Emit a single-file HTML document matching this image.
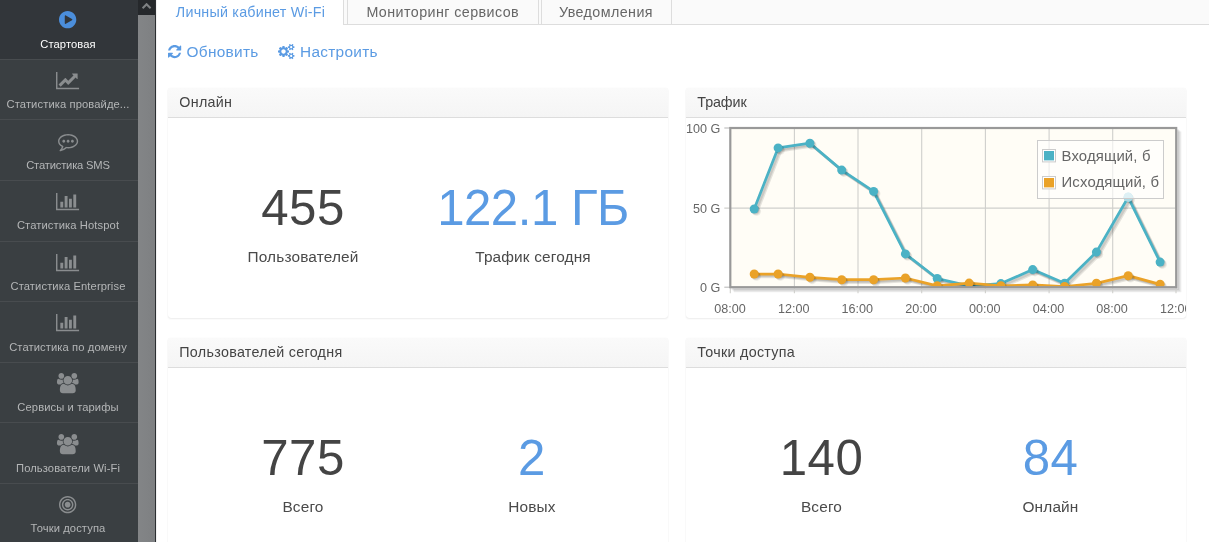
<!DOCTYPE html>
<html lang="ru"><head><meta charset="utf-8"><title>Личный кабинет Wi-Fi</title>
<style>
html,body{margin:0;padding:0}
body{width:1209px;height:542px;overflow:hidden;background:#fff;position:relative;font-family:"Liberation Sans",sans-serif;color:#444}
#side{position:absolute;left:0;top:0;width:138px;height:542px;background:#3a3f42;overflow:hidden}
.it{position:absolute;left:0;width:138px;height:59.9px;box-sizing:border-box;border-bottom:1px solid #484c4f}
.it.act{background:#32363a}
.ic{position:absolute;display:block;overflow:visible}
.lb{position:absolute;left:0;width:136px;top:36.5px;text-align:center;font-size:11.2px;line-height:14px;color:#b4b6b7;white-space:nowrap;letter-spacing:0.1px}
.act .lb{color:#fff}
#sb{position:absolute;left:138px;top:0;width:17px;height:542px;background:linear-gradient(90deg,#838587,#7e8082)}
#sbt{position:absolute;left:0;top:0;width:17px;height:14.5px;background:#25282b}
#sbl{position:absolute;left:155px;top:0;width:1px;height:542px;background:#2c2f32;border-right:1px solid #f1f1f1}
#tabs{position:absolute;left:157px;top:0;right:0;height:24px;background:#fafafa;border-bottom:1px solid #ddd}
.tab{position:absolute;top:-1px;height:24px;border:1px solid #ddd;border-bottom:none;box-sizing:content-box;font-size:14.3px;letter-spacing:0.42px;line-height:24px;color:#666;white-space:nowrap;text-align:center;background:#fafafa}
.tab.on{background:#fff;color:#5b9be3;height:25px;border-left-color:#fff}
.lnk{position:absolute;top:42px;letter-spacing:0.3px;font-size:15.4px;line-height:20px;color:#5b9be3;white-space:nowrap}
.panel{position:absolute;width:499.7px;height:230px;background:#fff;border-radius:3px;box-shadow:0 1px 2px rgba(0,0,0,0.07),0 0 1px rgba(0,0,0,0.10)}
.ph{position:absolute;left:0;top:0;right:0;height:29.5px;background:linear-gradient(#fafafa,#f5f5f5);border-bottom:1px solid #ddd;border-radius:3px 3px 0 0;font-size:14.3px;letter-spacing:0.3px;line-height:29px;padding-left:11.3px;color:#444}
.num{position:absolute;width:300px;text-align:center;font-size:49.2px;letter-spacing:0.5px;line-height:48px;color:#444;white-space:nowrap}
.u{letter-spacing:-0.5px}
.num.bl{color:#5b9be3}
.cap{position:absolute;width:300px;text-align:center;font-size:15.4px;letter-spacing:0.15px;line-height:18px;color:#4a4a4a;white-space:nowrap}
.chart{position:absolute;left:0;top:0}
.tk{font-family:"Liberation Sans",sans-serif;font-size:12.6px;fill:#666}
.lg{font-family:"Liberation Sans",sans-serif;font-size:14.9px;letter-spacing:0.15px;fill:#666}
</style></head><body>
<div id="side">
<div class="it act" style="top:0.00px"><svg class="ic" style="left:59.34px;top:11.14px" width="17.31" height="17.31" viewBox="0 -1408 1536 1536"><path fill="#4b8edb" transform="scale(1,-1)" d="M768 1408C344 1408 0 1064 0 640C0 216 344 -128 768 -128C1192 -128 1536 216 1536 640C1536 1064 1192 1408 768 1408ZM1152 585 608 265C598 259 587 256 576 256C565 256 554 259 544 264C524 276 512 297 512 320V960C512 983 524 1004 544 1016C564 1027 589 1027 608 1015L1152 695C1172 684 1184 663 1184 640C1184 617 1172 596 1152 585Z"/></svg><div class="lb">Стартовая</div></div>
<div class="it" style="top:60.60px"><svg class="ic" style="left:56.46px;top:11.14px" width="23.09" height="17.31" viewBox="0 -1408 2048 1536"><path fill="#8a8d8f" transform="scale(1,-1)" d="M2048 0H128V1408H0V-128H2048ZM1920 1248C1920 1266 1906 1280 1888 1280H1453C1425 1280 1410 1246 1431 1225L1552 1104L1088 640L855 873C842 886 822 886 809 873L224 288L416 96L832 512L1065 279C1078 266 1098 266 1111 279L1744 912L1865 791C1886 770 1920 785 1920 813Z"/></svg><div class="lb">Статистика провайде...</div></div>
<div class="it" style="top:121.20px"><svg class="ic" style="left:57.90px;top:12.59px" width="20.20" height="17.31" viewBox="0 -1280 1792 1536"><path fill="#8a8d8f" transform="scale(1,-1)" d="M640 640C640 711 583 768 512 768C441 768 384 711 384 640C384 569 441 512 512 512C583 512 640 569 640 640ZM1024 640C1024 711 967 768 896 768C825 768 768 711 768 640C768 569 825 512 896 512C967 512 1024 569 1024 640ZM1408 640C1408 711 1351 768 1280 768C1209 768 1152 711 1152 640C1152 569 1209 512 1280 512C1351 512 1408 569 1408 640ZM896 1152C1312 1152 1664 918 1664 640C1664 362 1312 128 896 128C853 128 809 131 766 136L709 142L666 104C584 32 492 -25 391 -67C417 -21 442 34 461 105L488 201L401 251C228 349 128 491 128 640C128 918 480 1152 896 1152ZM1792 640C1792 993 1391 1280 896 1280C401 1280 0 993 0 640C0 437 132 256 338 139C291 -28 219 -88 156 -159C141 -177 124 -192 129 -217C129 -217 129 -217 129 -218C134 -240 152 -256 172 -256C173 -256 175 -256 177 -256C216 -251 255 -244 291 -234C464 -190 620 -108 751 8C798 3 847 0 896 0C1391 0 1792 286 1792 640Z"/></svg><div class="lb" style="letter-spacing:-0.18px">Статистика SMS</div></div>
<div class="it" style="top:181.80px"><svg class="ic" style="left:56.46px;top:11.14px" width="23.09" height="17.31" viewBox="0 -1408 2048 1536"><path fill="#8a8d8f" transform="scale(1,-1)" d="M640 640H384V128H640ZM1024 1152H768V128H1024ZM2048 0H128V1408H0V-128H2048ZM1408 896H1152V128H1408ZM1792 1280H1536V128H1792Z"/></svg><div class="lb">Статистика Hotspot</div></div>
<div class="it" style="top:242.40px"><svg class="ic" style="left:56.46px;top:11.14px" width="23.09" height="17.31" viewBox="0 -1408 2048 1536"><path fill="#8a8d8f" transform="scale(1,-1)" d="M640 640H384V128H640ZM1024 1152H768V128H1024ZM2048 0H128V1408H0V-128H2048ZM1408 896H1152V128H1408ZM1792 1280H1536V128H1792Z"/></svg><div class="lb">Статистика Enterprise</div></div>
<div class="it" style="top:303.00px"><svg class="ic" style="left:56.46px;top:11.14px" width="23.09" height="17.31" viewBox="0 -1408 2048 1536"><path fill="#8a8d8f" transform="scale(1,-1)" d="M640 640H384V128H640ZM1024 1152H768V128H1024ZM2048 0H128V1408H0V-128H2048ZM1408 896H1152V128H1408ZM1792 1280H1536V128H1792Z"/></svg><div class="lb">Статистика по домену</div></div>
<div class="it" style="top:363.60px"><svg class="ic" style="left:57.18px;top:9.70px" width="21.64" height="20.20" viewBox="-0.006105489287108412 -1536 1920.0122109785743 1792"><path fill="#8a8d8f" transform="scale(1,-1)" d="M593 640C541 715 512 805 512 896C512 918 514 940 517 962C474 947 430 939 384 939C249 939 145 1024 124 1024C-3 1024 0 752 0 671C0 560 94 512 194 512H328C395 592 489 637 593 640ZM1664 3C1664 229 1611 576 1318 576C1284 576 1160 437 960 437C760 437 636 576 602 576C309 576 256 229 256 3C256 -159 363 -256 523 -256H1397C1557 -256 1664 -159 1664 3ZM640 1280C640 1421 525 1536 384 1536C243 1536 128 1421 128 1280C128 1139 243 1024 384 1024C525 1024 640 1139 640 1280ZM1344 896C1344 1108 1172 1280 960 1280C748 1280 576 1108 576 896C576 684 748 512 960 512C1172 512 1344 684 1344 896ZM1920 671C1920 752 1923 1024 1796 1024C1775 1024 1671 939 1536 939C1490 939 1446 947 1403 962C1406 940 1408 918 1408 896C1408 805 1379 715 1327 640C1431 637 1525 592 1592 512H1726C1826 512 1920 560 1920 671ZM1792 1280C1792 1421 1677 1536 1536 1536C1395 1536 1280 1421 1280 1280C1280 1139 1395 1024 1536 1024C1677 1024 1792 1139 1792 1280Z"/></svg><div class="lb">Сервисы и тарифы</div></div>
<div class="it" style="top:424.20px"><svg class="ic" style="left:57.18px;top:9.70px" width="21.64" height="20.20" viewBox="-0.006105489287108412 -1536 1920.0122109785743 1792"><path fill="#8a8d8f" transform="scale(1,-1)" d="M593 640C541 715 512 805 512 896C512 918 514 940 517 962C474 947 430 939 384 939C249 939 145 1024 124 1024C-3 1024 0 752 0 671C0 560 94 512 194 512H328C395 592 489 637 593 640ZM1664 3C1664 229 1611 576 1318 576C1284 576 1160 437 960 437C760 437 636 576 602 576C309 576 256 229 256 3C256 -159 363 -256 523 -256H1397C1557 -256 1664 -159 1664 3ZM640 1280C640 1421 525 1536 384 1536C243 1536 128 1421 128 1280C128 1139 243 1024 384 1024C525 1024 640 1139 640 1280ZM1344 896C1344 1108 1172 1280 960 1280C748 1280 576 1108 576 896C576 684 748 512 960 512C1172 512 1344 684 1344 896ZM1920 671C1920 752 1923 1024 1796 1024C1775 1024 1671 939 1536 939C1490 939 1446 947 1403 962C1406 940 1408 918 1408 896C1408 805 1379 715 1327 640C1431 637 1525 592 1592 512H1726C1826 512 1920 560 1920 671ZM1792 1280C1792 1421 1677 1536 1536 1536C1395 1536 1280 1421 1280 1280C1280 1139 1395 1024 1536 1024C1677 1024 1792 1139 1792 1280Z"/></svg><div class="lb">Пользователи Wi-Fi</div></div>
<div class="it" style="top:484.80px"><svg class="ic" style="left:59.34px;top:11.14px" width="17.31" height="17.31" viewBox="0 -1408 1536 1536"><path fill="#8a8d8f" transform="scale(1,-1)" d="M1024 640C1024 781 909 896 768 896C627 896 512 781 512 640C512 499 627 384 768 384C909 384 1024 499 1024 640ZM1152 640C1152 428 980 256 768 256C556 256 384 428 384 640C384 852 556 1024 768 1024C980 1024 1152 852 1152 640ZM1280 640C1280 923 1051 1152 768 1152C485 1152 256 923 256 640C256 357 485 128 768 128C1051 128 1280 357 1280 640ZM1408 640C1408 287 1121 0 768 0C415 0 128 287 128 640C128 993 415 1280 768 1280C1121 1280 1408 993 1408 640ZM1536 640C1536 1064 1192 1408 768 1408C344 1408 0 1064 0 640C0 216 344 -128 768 -128C1192 -128 1536 216 1536 640Z"/></svg><div class="lb">Точки доступа</div></div>
</div>
<div id="sb"><div id="sbt"><svg class="ic" style="left:3.91px;top:3.03px" width="9.17" height="5.89" viewBox="90.25 -1055.75 1611.5 1034.5"><path fill="#7e8183" transform="scale(1,-1)" d="M1683 205C1708 230 1708 271 1683 296L941 1037C916 1062 876 1062 851 1037L109 296C84 271 84 230 109 205L275 40C300 15 340 15 365 40L896 571L1427 40C1452 15 1492 15 1517 40L1683 205Z"/></svg></div></div>
<div id="sbl"></div>
<div id="tabs">
<div class="tab on" style="left:0;width:185px;letter-spacing:0.22px">Личный кабинет Wi-Fi</div>
<div class="tab" style="left:190px;width:189.5px">Мониторинг сервисов</div>
<div class="tab" style="left:383.5px;width:129px">Уведомления</div>
</div>
<svg class="ic" style="left:167.80px;top:44.70px" width="13.20" height="13.20" viewBox="0 -1408 1536 1536"><path fill="#5b9be3" transform="scale(1,-1)" d="M1511 480C1511 497 1497 512 1479 512H1287C1272 512 1262 503 1257 489C1240 449 1228 411 1204 372C1111 220 946 128 768 128C639 128 514 178 420 266L557 403C569 415 576 431 576 448C576 483 547 512 512 512H64C29 512 0 483 0 448V0C0 -35 29 -64 64 -64C81 -64 97 -57 109 -45L238 84C380 -51 569 -128 764 -128C1133 -128 1425 119 1510 473C1511 475 1511 478 1511 480ZM1536 1280C1536 1315 1507 1344 1472 1344C1455 1344 1439 1337 1427 1325L1297 1196C1155 1330 964 1408 768 1408C399 1408 104 1162 18 807C18 805 18 802 18 800C18 783 32 768 50 768H249C264 768 274 777 279 791C296 831 308 869 332 908C425 1060 590 1152 768 1152C897 1152 1022 1103 1117 1015L979 877C967 865 960 849 960 832C960 797 989 768 1024 768H1472C1507 768 1536 797 1536 832Z"/></svg>
<div class="lnk" style="left:186.5px">Обновить</div>
<svg class="ic" style="left:277.75px;top:43.74px" width="16.50" height="15.13" viewBox="0 -1520 1920 1761"><path fill="#5b9be3" transform="scale(1,-1)" d="M896 640C896 499 781 384 640 384C499 384 384 499 384 640C384 781 499 896 640 896C781 896 896 781 896 640ZM1664 128C1664 58 1607 0 1536 0C1466 0 1408 57 1408 128C1408 198 1466 256 1536 256C1606 256 1664 198 1664 128ZM1664 1152C1664 1082 1607 1024 1536 1024C1466 1024 1408 1081 1408 1152C1408 1222 1466 1280 1536 1280C1606 1280 1664 1222 1664 1152ZM1280 731C1280 745 1270 758 1256 761L1104 784C1095 812 1083 839 1070 866C1098 905 1128 941 1157 980C1161 986 1164 992 1164 999C1164 1027 1046 1135 1020 1159C1014 1164 1007 1167 999 1167C992 1167 985 1165 979 1160L861 1071C837 1083 812 1094 786 1102L763 1255C761 1269 747 1280 733 1280H547C533 1280 521 1270 517 1256C504 1207 499 1152 494 1102C467 1093 442 1083 417 1070L302 1160C296 1164 289 1167 281 1167C252 1167 140 1046 120 1019C115 1013 113 1006 113 999C113 992 116 985 120 979C152 941 182 904 210 864C197 839 186 814 178 788L23 764C10 762 0 747 0 734V549C0 535 10 522 24 520L176 496C185 468 197 441 211 414C182 375 152 338 123 300C119 294 116 288 116 281C116 252 234 145 260 121C266 116 273 113 281 113C288 113 296 115 301 120L419 209C443 197 468 186 494 178L517 25C519 11 533 0 547 0H733C747 0 759 10 763 24C776 73 781 128 786 179C813 187 838 197 863 210L978 120C984 116 991 113 999 113C1028 113 1140 235 1160 262C1165 267 1167 274 1167 281C1167 289 1164 295 1160 301C1128 339 1098 376 1070 416C1083 441 1094 466 1102 492L1257 516C1270 518 1280 533 1280 546ZM1920 198C1920 213 1791 227 1771 229C1763 247 1753 265 1741 281C1750 301 1792 401 1792 419C1792 421 1791 424 1788 426C1776 433 1669 496 1664 496L1658 494C1624 460 1594 421 1566 382C1556 383 1546 384 1536 384C1526 384 1516 383 1506 382C1496 397 1421 496 1408 496C1403 496 1296 432 1284 426C1281 424 1280 421 1280 419C1280 402 1322 301 1331 281C1319 265 1309 247 1301 229C1281 227 1152 213 1152 198V58C1152 43 1281 29 1301 27C1309 8 1319 -9 1331 -25C1322 -45 1280 -146 1280 -163C1280 -165 1281 -168 1284 -170C1296 -177 1403 -241 1408 -241C1421 -241 1496 -141 1506 -126C1516 -127 1526 -128 1536 -128C1546 -128 1556 -127 1566 -126C1576 -141 1651 -241 1664 -241C1669 -241 1776 -177 1788 -170C1791 -168 1792 -166 1792 -163C1792 -145 1750 -45 1741 -25C1753 -9 1763 8 1771 27C1791 29 1920 43 1920 58ZM1920 1222C1920 1237 1791 1251 1771 1253C1763 1271 1753 1289 1741 1305C1750 1325 1792 1425 1792 1443C1792 1445 1791 1448 1788 1450C1776 1457 1669 1520 1664 1520L1658 1518C1624 1484 1594 1445 1566 1406C1556 1407 1546 1408 1536 1408C1526 1408 1516 1407 1506 1406C1496 1421 1421 1520 1408 1520C1403 1520 1296 1456 1284 1450C1281 1448 1280 1445 1280 1443C1280 1426 1322 1325 1331 1305C1319 1289 1309 1271 1301 1253C1281 1251 1152 1237 1152 1222V1082C1152 1067 1281 1053 1301 1051C1309 1032 1319 1015 1331 999C1322 979 1280 878 1280 861C1280 859 1281 856 1284 854C1296 847 1403 783 1408 783C1421 783 1496 883 1506 898C1516 897 1526 896 1536 896C1546 896 1556 897 1566 898C1576 883 1651 783 1664 783C1669 783 1776 847 1788 854C1791 856 1792 858 1792 861C1792 879 1750 979 1741 999C1753 1015 1763 1032 1771 1051C1791 1053 1920 1067 1920 1082Z"/></svg>
<div class="lnk" style="left:300px">Настроить</div>

<div class="panel" style="left:168px;top:87.5px"><div class="ph">Онлайн</div></div>
<div class="panel" style="left:686px;top:87.5px;width:500px"><div class="ph" style="letter-spacing:-0.1px">Трафик</div></div>
<div class="panel" style="left:168px;top:337.5px"><div class="ph">Пользователей сегодня</div></div>
<div class="panel" style="left:686px;top:337.5px;width:500px"><div class="ph">Точки доступа</div></div>
<div class="num" style="left:153px;top:184.4px">455</div><div class="cap" style="left:153px;top:247.7px">Пользователей</div>
<div class="num bl" style="left:383px;top:184.4px"><span class="u">122.1 ГБ</span></div><div class="cap" style="left:383px;top:247.7px">Трафик сегодня</div>
<div class="num" style="left:153px;top:434.4px">775</div><div class="cap" style="left:153px;top:497.7px">Всего</div>
<div class="num bl" style="left:382px;top:434.4px">2</div><div class="cap" style="left:382px;top:497.7px">Новых</div>
<div class="num" style="left:671.5px;top:434.4px">140</div><div class="cap" style="left:671.5px;top:497.7px">Всего</div>
<div class="num bl" style="left:900.5px;top:434.4px">84</div><div class="cap" style="left:900.5px;top:497.7px">Онлайн</div>
<svg class="chart" width="1209" height="542" viewBox="0 0 1209 542">
<defs><clipPath id="pc"><rect x="730.3" y="128.0" width="445.9000000000001" height="159.6"/></clipPath>
<clipPath id="pan"><rect x="686" y="118" width="500" height="200"/></clipPath></defs>
<g clip-path="url(#pan)">
<polyline transform="translate(1.17,1.17)" fill="none" stroke="#000" stroke-opacity="0.07" stroke-width="3.3" points="730.3,287.2 1176.2,287.2 1176.2,128.0"/><polyline transform="translate(2.34,2.34)" fill="none" stroke="#000" stroke-opacity="0.07" stroke-width="3.3" points="730.3,287.2 1176.2,287.2 1176.2,128.0"/><polyline transform="translate(3.51,3.51)" fill="none" stroke="#000" stroke-opacity="0.07" stroke-width="3.3" points="730.3,287.2 1176.2,287.2 1176.2,128.0"/>
<rect x="730.3" y="128.0" width="445.9000000000001" height="159.2" fill="#fffdf6"/>
<line x1="794.4" y1="128.0" x2="794.4" y2="293.2" stroke="#cfcfcc" stroke-width="1.1"/><line x1="858.0" y1="128.0" x2="858.0" y2="293.2" stroke="#cfcfcc" stroke-width="1.1"/><line x1="921.7" y1="128.0" x2="921.7" y2="293.2" stroke="#cfcfcc" stroke-width="1.1"/><line x1="985.4" y1="128.0" x2="985.4" y2="293.2" stroke="#cfcfcc" stroke-width="1.1"/><line x1="1049.1" y1="128.0" x2="1049.1" y2="293.2" stroke="#cfcfcc" stroke-width="1.1"/><line x1="1112.7" y1="128.0" x2="1112.7" y2="293.2" stroke="#cfcfcc" stroke-width="1.1"/><line x1="724.3" y1="208.1" x2="1176" y2="208.1" stroke="#cfcfcc" stroke-width="1.1"/><line x1="730.3" y1="287.2" x2="730.3" y2="293.2" stroke="#cfcfcc" stroke-width="1.1"/><line x1="1176.0" y1="287.2" x2="1176.0" y2="293.2" stroke="#cfcfcc" stroke-width="1.1"/><line x1="724.3" y1="128.0" x2="730.3" y2="128.0" stroke="#bbb" stroke-width="1.1"/><line x1="724.3" y1="287.2" x2="730.3" y2="287.2" stroke="#bbb" stroke-width="1.1"/>
<g clip-path="url(#pc)">
<polyline transform="translate(0.97,0.97)" fill="none" stroke="#000" stroke-opacity="0.1" stroke-width="2.75" stroke-linejoin="round" stroke-linecap="round" points="754.2,209.0 778.1,147.9 809.9,143.2 841.7,170.1 873.6,191.4 905.4,253.9 937.2,278.5 969.1,285.8 1000.9,283.6 1032.7,269.6 1064.6,283.3 1096.4,252.1 1128.2,197.3 1160.1,262.1"/><polyline transform="translate(1.94,1.94)" fill="none" stroke="#000" stroke-opacity="0.1" stroke-width="2.75" stroke-linejoin="round" stroke-linecap="round" points="754.2,209.0 778.1,147.9 809.9,143.2 841.7,170.1 873.6,191.4 905.4,253.9 937.2,278.5 969.1,285.8 1000.9,283.6 1032.7,269.6 1064.6,283.3 1096.4,252.1 1128.2,197.3 1160.1,262.1"/><polyline transform="translate(2.91,2.91)" fill="none" stroke="#000" stroke-opacity="0.1" stroke-width="2.75" stroke-linejoin="round" stroke-linecap="round" points="754.2,209.0 778.1,147.9 809.9,143.2 841.7,170.1 873.6,191.4 905.4,253.9 937.2,278.5 969.1,285.8 1000.9,283.6 1032.7,269.6 1064.6,283.3 1096.4,252.1 1128.2,197.3 1160.1,262.1"/>
<polyline points="754.2,209.0 778.1,147.9 809.9,143.2 841.7,170.1 873.6,191.4 905.4,253.9 937.2,278.5 969.1,285.8 1000.9,283.6 1032.7,269.6 1064.6,283.3 1096.4,252.1 1128.2,197.3 1160.1,262.1" fill="none" stroke="#4bb2c5" stroke-width="2.75" stroke-linejoin="round" stroke-linecap="round"/>
<g transform="translate(0.78,0.78)" fill="#000" fill-opacity="0.07"><circle cx="754.2" cy="209.0" r="4.5"/><circle cx="778.1" cy="147.9" r="4.5"/><circle cx="809.9" cy="143.2" r="4.5"/><circle cx="841.7" cy="170.1" r="4.5"/><circle cx="873.6" cy="191.4" r="4.5"/><circle cx="905.4" cy="253.9" r="4.5"/><circle cx="937.2" cy="278.5" r="4.5"/><circle cx="969.1" cy="285.8" r="4.5"/><circle cx="1000.9" cy="283.6" r="4.5"/><circle cx="1032.7" cy="269.6" r="4.5"/><circle cx="1064.6" cy="283.3" r="4.5"/><circle cx="1096.4" cy="252.1" r="4.5"/><circle cx="1128.2" cy="197.3" r="4.5"/><circle cx="1160.1" cy="262.1" r="4.5"/></g><g transform="translate(1.56,1.56)" fill="#000" fill-opacity="0.07"><circle cx="754.2" cy="209.0" r="4.5"/><circle cx="778.1" cy="147.9" r="4.5"/><circle cx="809.9" cy="143.2" r="4.5"/><circle cx="841.7" cy="170.1" r="4.5"/><circle cx="873.6" cy="191.4" r="4.5"/><circle cx="905.4" cy="253.9" r="4.5"/><circle cx="937.2" cy="278.5" r="4.5"/><circle cx="969.1" cy="285.8" r="4.5"/><circle cx="1000.9" cy="283.6" r="4.5"/><circle cx="1032.7" cy="269.6" r="4.5"/><circle cx="1064.6" cy="283.3" r="4.5"/><circle cx="1096.4" cy="252.1" r="4.5"/><circle cx="1128.2" cy="197.3" r="4.5"/><circle cx="1160.1" cy="262.1" r="4.5"/></g><g transform="translate(2.34,2.34)" fill="#000" fill-opacity="0.07"><circle cx="754.2" cy="209.0" r="4.5"/><circle cx="778.1" cy="147.9" r="4.5"/><circle cx="809.9" cy="143.2" r="4.5"/><circle cx="841.7" cy="170.1" r="4.5"/><circle cx="873.6" cy="191.4" r="4.5"/><circle cx="905.4" cy="253.9" r="4.5"/><circle cx="937.2" cy="278.5" r="4.5"/><circle cx="969.1" cy="285.8" r="4.5"/><circle cx="1000.9" cy="283.6" r="4.5"/><circle cx="1032.7" cy="269.6" r="4.5"/><circle cx="1064.6" cy="283.3" r="4.5"/><circle cx="1096.4" cy="252.1" r="4.5"/><circle cx="1128.2" cy="197.3" r="4.5"/><circle cx="1160.1" cy="262.1" r="4.5"/></g>
<circle cx="754.2" cy="209.0" r="4.5" fill="#4bb2c5"/><circle cx="778.1" cy="147.9" r="4.5" fill="#4bb2c5"/><circle cx="809.9" cy="143.2" r="4.5" fill="#4bb2c5"/><circle cx="841.7" cy="170.1" r="4.5" fill="#4bb2c5"/><circle cx="873.6" cy="191.4" r="4.5" fill="#4bb2c5"/><circle cx="905.4" cy="253.9" r="4.5" fill="#4bb2c5"/><circle cx="937.2" cy="278.5" r="4.5" fill="#4bb2c5"/><circle cx="969.1" cy="285.8" r="4.5" fill="#4bb2c5"/><circle cx="1000.9" cy="283.6" r="4.5" fill="#4bb2c5"/><circle cx="1032.7" cy="269.6" r="4.5" fill="#4bb2c5"/><circle cx="1064.6" cy="283.3" r="4.5" fill="#4bb2c5"/><circle cx="1096.4" cy="252.1" r="4.5" fill="#4bb2c5"/><circle cx="1128.2" cy="197.3" r="4.5" fill="#4bb2c5"/><circle cx="1160.1" cy="262.1" r="4.5" fill="#4bb2c5"/>
<polyline transform="translate(0.97,0.97)" fill="none" stroke="#000" stroke-opacity="0.1" stroke-width="2.75" stroke-linejoin="round" stroke-linecap="round" points="754.2,274.0 778.1,274.0 809.9,277.3 841.7,279.7 873.6,279.7 905.4,278.0 937.2,285.8 969.1,283.1 1000.9,285.8 1032.7,284.9 1064.6,286.5 1096.4,283.3 1128.2,275.7 1160.1,284.3"/><polyline transform="translate(1.94,1.94)" fill="none" stroke="#000" stroke-opacity="0.1" stroke-width="2.75" stroke-linejoin="round" stroke-linecap="round" points="754.2,274.0 778.1,274.0 809.9,277.3 841.7,279.7 873.6,279.7 905.4,278.0 937.2,285.8 969.1,283.1 1000.9,285.8 1032.7,284.9 1064.6,286.5 1096.4,283.3 1128.2,275.7 1160.1,284.3"/><polyline transform="translate(2.91,2.91)" fill="none" stroke="#000" stroke-opacity="0.1" stroke-width="2.75" stroke-linejoin="round" stroke-linecap="round" points="754.2,274.0 778.1,274.0 809.9,277.3 841.7,279.7 873.6,279.7 905.4,278.0 937.2,285.8 969.1,283.1 1000.9,285.8 1032.7,284.9 1064.6,286.5 1096.4,283.3 1128.2,275.7 1160.1,284.3"/>
<polyline points="754.2,274.0 778.1,274.0 809.9,277.3 841.7,279.7 873.6,279.7 905.4,278.0 937.2,285.8 969.1,283.1 1000.9,285.8 1032.7,284.9 1064.6,286.5 1096.4,283.3 1128.2,275.7 1160.1,284.3" fill="none" stroke="#eaa228" stroke-width="2.75" stroke-linejoin="round" stroke-linecap="round"/>
<g transform="translate(0.78,0.78)" fill="#000" fill-opacity="0.07"><circle cx="754.2" cy="274.0" r="4.5"/><circle cx="778.1" cy="274.0" r="4.5"/><circle cx="809.9" cy="277.3" r="4.5"/><circle cx="841.7" cy="279.7" r="4.5"/><circle cx="873.6" cy="279.7" r="4.5"/><circle cx="905.4" cy="278.0" r="4.5"/><circle cx="937.2" cy="285.8" r="4.5"/><circle cx="969.1" cy="283.1" r="4.5"/><circle cx="1000.9" cy="285.8" r="4.5"/><circle cx="1032.7" cy="284.9" r="4.5"/><circle cx="1064.6" cy="286.5" r="4.5"/><circle cx="1096.4" cy="283.3" r="4.5"/><circle cx="1128.2" cy="275.7" r="4.5"/><circle cx="1160.1" cy="284.3" r="4.5"/></g><g transform="translate(1.56,1.56)" fill="#000" fill-opacity="0.07"><circle cx="754.2" cy="274.0" r="4.5"/><circle cx="778.1" cy="274.0" r="4.5"/><circle cx="809.9" cy="277.3" r="4.5"/><circle cx="841.7" cy="279.7" r="4.5"/><circle cx="873.6" cy="279.7" r="4.5"/><circle cx="905.4" cy="278.0" r="4.5"/><circle cx="937.2" cy="285.8" r="4.5"/><circle cx="969.1" cy="283.1" r="4.5"/><circle cx="1000.9" cy="285.8" r="4.5"/><circle cx="1032.7" cy="284.9" r="4.5"/><circle cx="1064.6" cy="286.5" r="4.5"/><circle cx="1096.4" cy="283.3" r="4.5"/><circle cx="1128.2" cy="275.7" r="4.5"/><circle cx="1160.1" cy="284.3" r="4.5"/></g><g transform="translate(2.34,2.34)" fill="#000" fill-opacity="0.07"><circle cx="754.2" cy="274.0" r="4.5"/><circle cx="778.1" cy="274.0" r="4.5"/><circle cx="809.9" cy="277.3" r="4.5"/><circle cx="841.7" cy="279.7" r="4.5"/><circle cx="873.6" cy="279.7" r="4.5"/><circle cx="905.4" cy="278.0" r="4.5"/><circle cx="937.2" cy="285.8" r="4.5"/><circle cx="969.1" cy="283.1" r="4.5"/><circle cx="1000.9" cy="285.8" r="4.5"/><circle cx="1032.7" cy="284.9" r="4.5"/><circle cx="1064.6" cy="286.5" r="4.5"/><circle cx="1096.4" cy="283.3" r="4.5"/><circle cx="1128.2" cy="275.7" r="4.5"/><circle cx="1160.1" cy="284.3" r="4.5"/></g>
<circle cx="754.2" cy="274.0" r="4.5" fill="#eaa228"/><circle cx="778.1" cy="274.0" r="4.5" fill="#eaa228"/><circle cx="809.9" cy="277.3" r="4.5" fill="#eaa228"/><circle cx="841.7" cy="279.7" r="4.5" fill="#eaa228"/><circle cx="873.6" cy="279.7" r="4.5" fill="#eaa228"/><circle cx="905.4" cy="278.0" r="4.5" fill="#eaa228"/><circle cx="937.2" cy="285.8" r="4.5" fill="#eaa228"/><circle cx="969.1" cy="283.1" r="4.5" fill="#eaa228"/><circle cx="1000.9" cy="285.8" r="4.5" fill="#eaa228"/><circle cx="1032.7" cy="284.9" r="4.5" fill="#eaa228"/><circle cx="1064.6" cy="286.5" r="4.5" fill="#eaa228"/><circle cx="1096.4" cy="283.3" r="4.5" fill="#eaa228"/><circle cx="1128.2" cy="275.7" r="4.5" fill="#eaa228"/><circle cx="1160.1" cy="284.3" r="4.5" fill="#eaa228"/>
<circle cx="1128.2" cy="197.3" r="4.7" fill="#acdae4"/>
</g>
<rect x="730.3" y="128.0" width="445.9000000000001" height="159.2" fill="none" stroke="#999" stroke-width="2.2"/>
<text class="tk" x="730.0" y="313" text-anchor="middle">08:00</text><text class="tk" x="793.7" y="313" text-anchor="middle">12:00</text><text class="tk" x="857.3" y="313" text-anchor="middle">16:00</text><text class="tk" x="921.0" y="313" text-anchor="middle">20:00</text><text class="tk" x="984.7" y="313" text-anchor="middle">00:00</text><text class="tk" x="1048.4" y="313" text-anchor="middle">04:00</text><text class="tk" x="1112.0" y="313" text-anchor="middle">08:00</text><text class="tk" x="1175.7" y="313" text-anchor="middle">12:00</text><text class="tk" x="720.3" y="132.7" text-anchor="end">100 G</text><text class="tk" x="720.3" y="212.8" text-anchor="end">50 G</text><text class="tk" x="720.3" y="291.9" text-anchor="end">0 G</text>
<rect x="1037.5" y="140.5" width="126" height="58" fill="#fff" fill-opacity="0.6" stroke="#ccc" stroke-width="1"/>
<rect x="1042.5" y="149.5" width="13" height="12.4" fill="#fff" stroke="#ccc"/><rect x="1044" y="151" width="10" height="9.4" fill="#4bb2c5"/>
<rect x="1042.5" y="176.5" width="13" height="12.4" fill="#fff" stroke="#ccc"/><rect x="1044" y="178" width="10" height="9.4" fill="#eaa228"/>
<text class="lg" x="1061.5" y="160.5">Входящий, б</text>
<text class="lg" x="1061.5" y="187.4">Исходящий, б</text>
</g>
</svg>
</body></html>
